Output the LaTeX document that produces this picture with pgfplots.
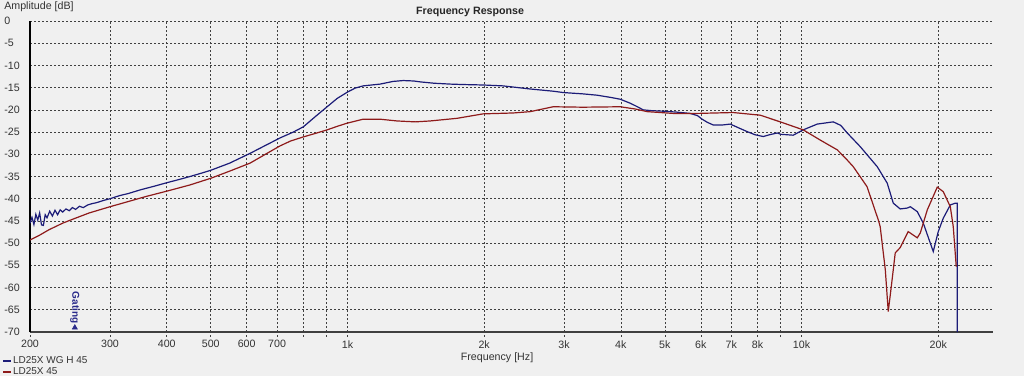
\documentclass[border=0pt]{standalone}
\usepackage{pgfplots}
\pgfplotsset{compat=1.18}
\usepackage{fontspec}
\setmainfont{Liberation Sans}
\definecolor{bgcol}{HTML}{F0F0F0}
\definecolor{navy}{HTML}{1C1C78}
\definecolor{dred}{HTML}{8E1B1B}
\definecolor{gatecol}{HTML}{2A2A8A}
\begin{document}
\fontsize{8}{9.6}\selectfont
\begin{tikzpicture}
\fill[bgcol] (-22.5pt,-33pt) rectangle (745.5pt,249pt);
\begin{axis}[
  at={(0,0)}, anchor=south west,
  width=722.25pt, height=233.25pt, scale only axis,
  xmode=log, xmin=200, xmax=26400, ymin=-70, ymax=0,
  axis x line=bottom, axis y line=left,
  x axis line style={-, draw=black!75, line width=1.5pt},
  y axis line style={-, draw=black, line width=1.5pt},
  xtick={200,300,400,500,600,700,800,900,1000,2000,3000,4000,5000,6000,7000,8000,9000,10000,20000},
  xticklabels={200,300,400,500,600,700,,,1k,2k,3k,4k,5k,6k,7k,8k,,10k,20k},
  ytick={-70,-65,-60,-55,-50,-45,-40,-35,-30,-25,-20,-15,-10,-5,0},
  yticklabels={-70,-65,-60,-55,-50,-45,-40,-35,-30,-25,-20,-15,-10,-5,0},
  minor xtick={}, log basis x=10,
  grid=major,
  major grid style={dash pattern=on 1.5pt off 1.5pt, black!75, line width=0.45pt},
  x tick style={black!75, dash pattern=on 1.5pt off 1.5pt, line width=0.45pt},
  tick align=outside, major tick length=3.5pt,
  y tick style={draw=none},
  xticklabel style={font=\fontsize{8}{9.6}\selectfont, text=black!80},
  yticklabel style={font=\fontsize{8}{9.6}\selectfont, text=black!80, anchor=west, xshift=-16pt, inner sep=0pt},
  legend style={at={(0,0)}, anchor=north west, xshift=-21pt, yshift=-17.5pt, draw=none, fill=none,
    font=\fontsize{7.5}{8}\selectfont, row sep=0.3pt, inner sep=0pt, text=black!80,
    nodes={inner sep=0.8pt}},
  legend cell align=left,
  legend image code/.code={\draw[#1, line width=1.3pt] (0pt,0pt) -- (6pt,0pt);},
  clip mode=individual,
]
\addplot[navy, line width=0.9pt] coordinates {
(200,-45.5) (202,-44.2) (204,-45.8) (206,-43.5) (208,-44.8) (210,-43.2) (212,-45.9) (214,-46.0)
(216,-43.6) (218,-44.3) (221,-42.8) (224,-43.9) (227,-42.6) (230,-43.6) (233,-42.5) (236,-43.0)
(240,-42.3) (244,-42.7) (248,-42.0) (252,-42.4) (257,-41.7) (262,-42.0) (268,-41.4) (274,-41.1)
(280,-40.9) (290,-40.4) (300,-40.0) (315,-39.3) (330,-38.8) (350,-38.0) (375,-37.2) (400,-36.4)
(425,-35.7) (450,-35.0) (475,-34.3) (500,-33.6) (550,-32.0) (610,-29.8) (660,-28.0) (711,-26.3)
(760,-25.0) (800,-23.8) (850,-21.5) (902,-19.3) (950,-17.4) (1000,-16.0) (1040,-15.1) (1083,-14.6)
(1180,-14.2) (1260,-13.6) (1327,-13.4) (1400,-13.5) (1446,-13.7) (1550,-14.0) (1684,-14.2) (1800,-14.3)
(1990,-14.4) (2200,-14.6) (2526,-15.3) (2840,-15.8) (2986,-16.1) (3300,-16.4) (3548,-16.7) (3800,-17.2)
(3986,-17.6) (4194,-18.5) (4350,-19.3) (4480,-20.0) (4700,-20.2) (4961,-20.3) (5300,-20.5) (5686,-20.8)
(5900,-21.3) (6040,-22.1) (6200,-22.8) (6390,-23.4) (6700,-23.4) (6966,-23.2) (7250,-24.0) (7592,-24.9)
(7900,-25.6) (8234,-26.0) (8500,-25.6) (8840,-25.2) (9000,-25.5) (9586,-25.7) (10084,-24.5) (10828,-23.2)
(11744,-22.7) (12200,-23.5) (12606,-25.2) (13470,-28.3) (14680,-32.8) (15440,-36.5) (15920,-41.0) (16490,-42.3)
(17090,-42.1) (17360,-41.8) (17980,-42.9) (18540,-45.5) (19500,-51.9) (20000,-47.4) (20510,-44.4) (21260,-41.4)
(21800,-41.0) (22020,-41.0) (22030,-70)
};
\addlegendentry{LD25X WG H 45}
\addplot[dred, line width=0.9pt] coordinates {
(200,-49.3) (210,-48.2) (220,-47.0) (236,-45.5) (250,-44.5) (270,-43.2) (300,-41.8) (330,-40.6)
(360,-39.5) (400,-38.3) (450,-36.9) (500,-35.4) (550,-33.8) (610,-32.0) (686,-29.0) (711,-28.1)
(750,-27.0) (799,-26.1) (850,-25.3) (902,-24.5) (950,-23.7) (998,-23.0) (1083,-22.1) (1180,-22.1)
(1287,-22.5) (1410,-22.7) (1520,-22.5) (1744,-21.9) (1990,-20.9) (2317,-20.7) (2526,-20.4) (2838,-19.3)
(3300,-19.4) (3986,-19.3) (4300,-19.8) (4572,-20.4) (5218,-20.8) (5892,-20.8) (7072,-20.6) (8110,-21.2)
(8974,-22.7) (10084,-24.5) (10994,-26.8) (11984,-29.0) (12606,-31.3) (13000,-32.8) (13940,-37.3) (14500,-42.5)
(14760,-44.8) (14900,-46.3) (15290,-56.0) (15520,-65.4) (15760,-59.8) (16080,-52.2) (16490,-51.0) (17170,-47.4)
(17980,-48.8) (18260,-47.7) (18920,-42.5) (19900,-37.4) (20510,-38.4) (21260,-41.8) (21580,-46.3) (21910,-55.3)
};
\addlegendentry{LD25X 45}
\addplot[only marks, mark=triangle*, mark size=2.2pt, gatecol, forget plot] coordinates {(251,-69.0)};
\node[rotate=-90, anchor=west, font=\bfseries\fontsize{7.5}{8}\selectfont, text=gatecol, inner sep=0pt] at (axis cs:251,-60.9) {Gating};
\node[font=\bfseries\fontsize{8}{9.6}\selectfont, text=black!85] at (rel axis cs:0.457,1) [yshift=7pt] {Frequency Response};
\node[anchor=west, font=\fontsize{8}{9.6}\selectfont, text=black!80, inner sep=0pt] at (rel axis cs:0,1) [xshift=-19.5pt, yshift=10.5pt] {Amplitude [dB]};
\node[font=\fontsize{8}{9.6}\selectfont, text=black!80] at (rel axis cs:0.485,0) [yshift=-19.5pt] {Frequency [Hz]};
\end{axis}
\end{tikzpicture}
\end{document}
